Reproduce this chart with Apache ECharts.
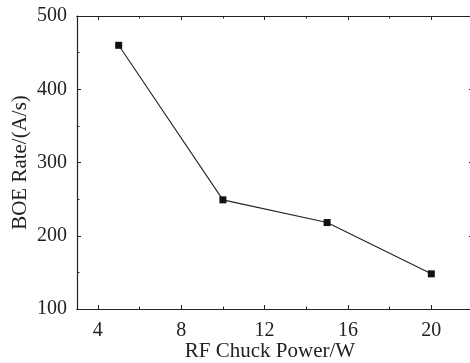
<!DOCTYPE html>
<html><head><meta charset="utf-8">
<script src="https://cdn.jsdelivr.net/npm/echarts@6/dist/echarts.min.js"></script>
<style>html,body{margin:0;padding:0;background:#fff;overflow:hidden}#c{width:476px;height:363px}</style>
</head><body><div id="c"></div>
<script>
const power = [5, 10, 15, 20];
const boeRate = [460, 249, 218, 148];
const xTicks = [4, 8, 12, 16, 20];
const xMinorTicks = [6, 10, 14, 18];
const yTicks = [100, 200, 300, 400, 500];

const font = '"Liberation Serif", "Times New Roman", serif';
const ink = '#222';
const chart = echarts.init(document.getElementById('c'), null, {renderer: 'canvas'});
const labelStyle = {color: ink, fontFamily: font, fontSize: 20};
const nameStyle = {color: ink, fontFamily: font, fontSize: 21};
function xAx(pos, ticks, len, withLabel) {
  const a = {
    type: 'value', min: 3, max: 22, position: pos,
    axisLine: {show: true, onZero: false, lineStyle: {color: ink, width: 1.2}},
    axisTick: {show: true, inside: true, length: len, customValues: ticks, lineStyle: {color: ink, width: 1}},
    axisLabel: {show: false},
    splitLine: {show: false},
  };
  if (withLabel) {
    a.axisLabel = Object.assign({show: true, margin: 12, customValues: xTicks}, labelStyle);
    a.name = 'RF Chuck Power/W';
    a.nameLocation = 'middle';
    a.nameGap = 32;
    a.nameMoveOverlap = false;
    a.nameTextStyle = Object.assign({padding: [0, 10, 0, 0]}, nameStyle);
  }
  return a;
}
function yAx(pos, withLabel) {
  const a = {
    type: 'value', min: 100, max: 500, interval: 100, position: pos,
    axisLine: {show: true, onZero: false, lineStyle: {color: ink, width: 1.2}},
    axisTick: {show: true, inside: true, length: 4, lineStyle: {color: ink, width: 1}},
    minorTick: {show: true, splitNumber: 2, length: 2.5, lineStyle: {color: ink, width: 1}},
    axisLabel: {show: false},
    splitLine: {show: false},
  };
  if (withLabel) {
    a.axisLabel = Object.assign({show: true, margin: 10, formatter: v => yTicks.includes(v) ? String(v) : ''}, labelStyle);
    a.name = 'BOE Rate/(A/s)';
    a.nameLocation = 'middle';
    a.nameGap = 46;
    a.nameMoveOverlap = false;
    a.nameTextStyle = nameStyle;
  }
  return a;
}
chart.setOption({
  animation: false,
  backgroundColor: '#fff',
  grid: {left: 77, top: 16, bottom: 54, right: 3, containLabel: false, outerBoundsMode: 'none'},
  xAxis: [
    xAx('bottom', xTicks, 4, true),
    xAx('bottom', xMinorTicks, 2.5, false),
    xAx('top', xTicks, 4, false),
    xAx('top', xMinorTicks, 2.5, false)
  ],
  yAxis: [yAx('left', true), yAx('right', false)],
  series: [{
    type: 'line',
    data: power.map((p, i) => [p, boeRate[i]]),
    symbol: 'rect', symbolSize: 7,
    itemStyle: {color: '#111'},
    lineStyle: {color: '#222', width: 1.1},
  }]
});
</script></body></html>
